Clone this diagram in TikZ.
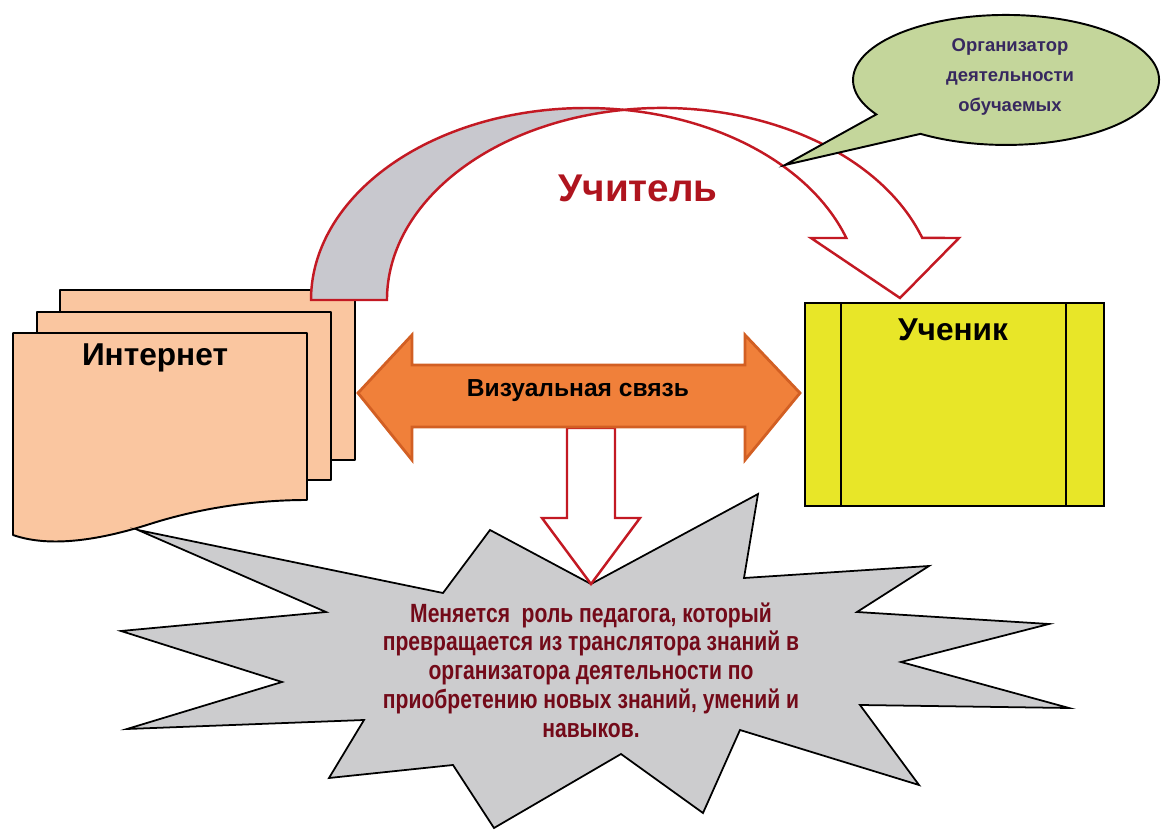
\documentclass[tikz,border=0pt]{standalone}
\usepackage{fontspec}
\setmainfont{Liberation Sans}
\newfontfamily\narrowfont[FakeStretch=0.8]{Liberation Sans}
\definecolor{peach}{RGB}{250,198,160}
\definecolor{yel}{RGB}{232,230,40}
\definecolor{orangeF}{RGB}{240,128,58}
\definecolor{orangeD}{RGB}{210,95,35}
\definecolor{burstgray}{RGB}{204,204,206}
\definecolor{calloutgreen}{RGB}{196,214,155}
\definecolor{ribred}{RGB}{195,25,35}
\definecolor{ribgray}{RGB}{200,200,206}
\definecolor{txtred}{RGB}{175,20,30}
\definecolor{burstred}{RGB}{115,10,25}
\definecolor{callouttxt}{RGB}{55,40,95}
\begin{document}
\begin{tikzpicture}[x=0.02cm,y=-0.02cm,
  sheet/.style={fill=peach,draw=black,line width=1.1pt,line join=round},
  ribbon/.style={draw=ribred,line width=1.4pt,line join=miter},
  hollowarrow/.style={draw=ribred,fill=white,line width=1.4pt,line join=miter},
  bigtxt/.style={font=\bfseries\fontsize{18}{20}\selectfont,text=black},
  burst/.style={fill=burstgray,draw=black,line width=1pt,line join=miter},
  callout/.style={fill=calloutgreen,draw=black,line width=1.1pt},
  studentbox/.style={fill=yel,draw=black,line width=1.1pt},
  dblarrow/.style={fill=orangeF,draw=orangeD,line width=1.6pt,line join=miter}]
\useasboundingbox (0,0) rectangle (1161,831);

% Internet: stacked documents
\draw[sheet] (60,290) rectangle (355,460);
\draw[sheet] (37,312) rectangle (331,480);
\draw[sheet] (13,333) -- (307,333) -- (307,500)
  .. controls (255,500) and (200,508) .. (150,524)
  .. controls (100,540) and (50,548) .. (13,535) -- cycle;
\node[bigtxt] (internet) at (155,358) {Интернет};

% curved arrow (Учитель)
\draw[ribbon,fill=ribgray] (311,300)
  arc[start angle=180,end angle=277.94,x radius=275,y radius=192]
  arc[start angle=262.06,end angle=180,x radius=275,y radius=192] -- cycle;
\draw[ribbon,fill=white] (624,109.8)
  arc[start angle=262.06,end angle=341.16,x radius=275,y radius=192]
  -- (959,238) -- (900,298) -- (811,238) -- (846.3,238)
  arc[start angle=341.16,end angle=277.94,x radius=275,y radius=192] -- cycle;
\node[font=\bfseries\fontsize{22}{24}\selectfont,text=txtred] (teacher) at (638,188) {Учитель};

% callout
\draw[callout] (876.3,114.4) arc[start angle=148,end angle=484,x radius=153,y radius=65]
  -- (785,165) -- cycle;
\node[font=\bfseries\fontsize{10.5}{17}\selectfont,text=callouttxt,align=center] (org) at (1010,77)
  {Организатор\\деятельности\\обучаемых};

% student box
\draw[studentbox] (805,303) rectangle (1104,506);
\draw[line width=1.1pt] (841,303) -- (841,506);
\draw[line width=1.1pt] (1066,303) -- (1066,506);
\node[bigtxt] (student) at (953,330) {Ученик};

% starburst
\draw[burst] (138,530) -- (443,593) -- (490,530) -- (591,584) -- (758,494) -- (744,578)
  -- (929,566) -- (857,612) -- (1049,624) -- (901,662) -- (1069,708) -- (860,705)
  -- (919,785) -- (740,730) -- (703,813) -- (621,754) -- (494,828) -- (453,765)
  -- (329,778) -- (364,720) -- (127,729) -- (282,682) -- (121,631) -- (326,612) -- cycle;
\node[font=\narrowfont\bfseries\fontsize{15}{16.4}\selectfont,text=burstred,align=center] (change) at (591,670)
  {Меняется\ \ роль педагога, который\\превращается из транслятора знаний в\\организатора деятельности по\\приобретению новых знаний, умений и\\навыков.};

% down hollow arrow
\draw[hollowarrow] (567,428) -- (615,428) -- (615,518) -- (640,518) -- (591,584)
  -- (542,518) -- (567,518) -- cycle;

% double arrow
\draw[dblarrow] (358,393) -- (412,335) -- (412,365) -- (745,365) -- (745,335) -- (800,393)
  -- (745,460) -- (745,427) -- (412,427) -- (412,460) -- cycle;
\node[font=\bfseries\fontsize{14}{16}\selectfont,text=black] (visual) at (578,391) {Визуальная связь};
\end{tikzpicture}
\end{document}
